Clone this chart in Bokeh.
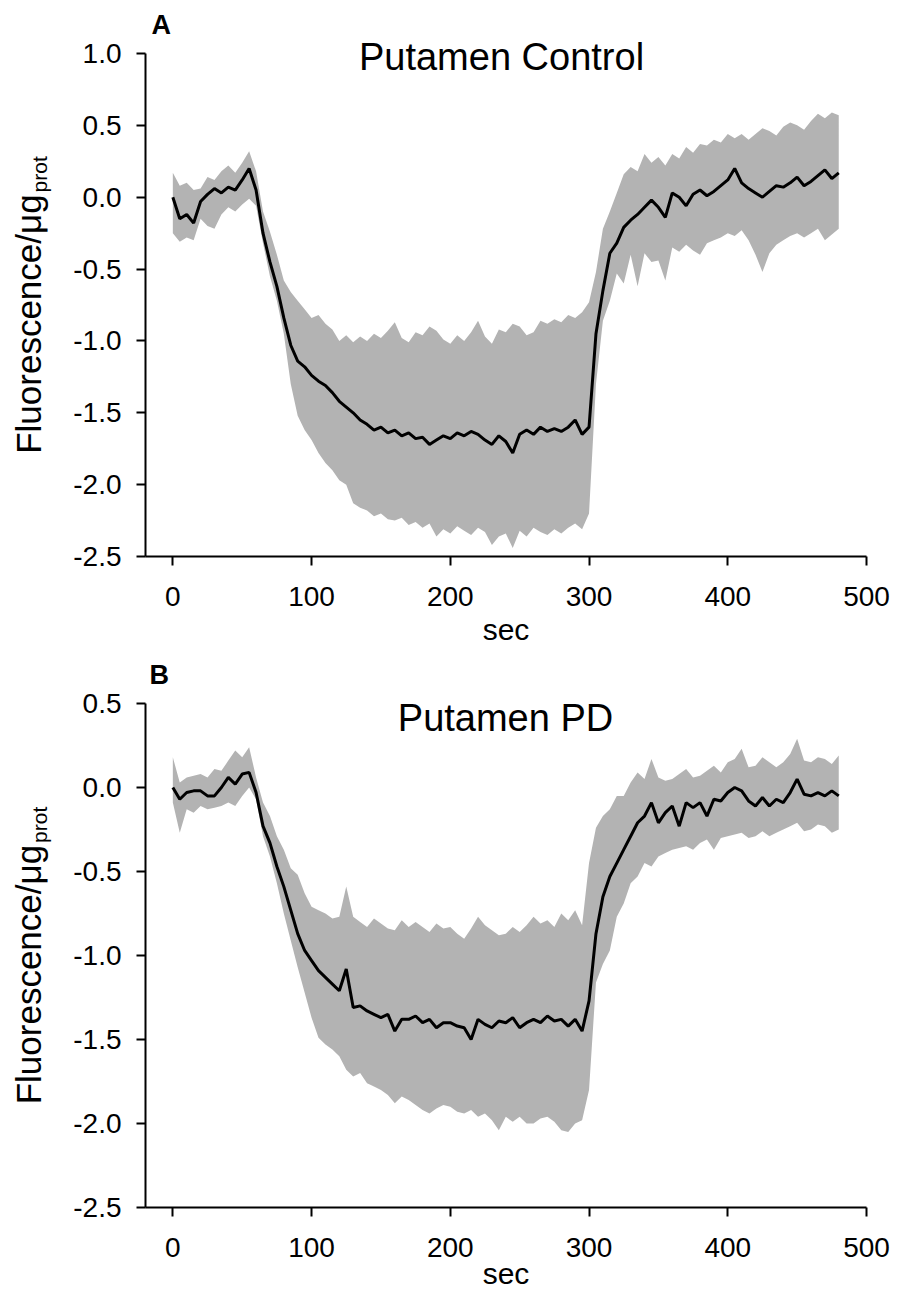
import numpy as np
from bokeh.plotting import figure
from bokeh.layouts import column, row
from bokeh.models import Range1d, FixedTicker, PrintfTickFormatter, Label
from bokeh.embed import file_html
from bokeh.resources import INLINE

# ---------------- data ----------------
time_s = list(range(0, 481, 5))

ctrl_mean = [0.00, -0.15, -0.12, -0.18, -0.03, 0.02, 0.06, 0.03, 0.07, 0.05,
             0.12, 0.20, 0.05, -0.25, -0.45, -0.62, -0.84, -1.03, -1.14, -1.18,
             -1.24, -1.28, -1.31, -1.36, -1.42, -1.46, -1.50, -1.55, -1.58, -1.62,
             -1.60, -1.64, -1.62, -1.66, -1.64, -1.68, -1.67, -1.72, -1.69, -1.66,
             -1.68, -1.64, -1.66, -1.63, -1.65, -1.69, -1.72, -1.66, -1.70, -1.78,
             -1.65, -1.62, -1.65, -1.60, -1.63, -1.61, -1.63, -1.60, -1.55, -1.65,
             -1.60, -0.95, -0.65, -0.39, -0.32, -0.21, -0.16, -0.12, -0.07, -0.02,
             -0.07, -0.14, 0.03, 0.00, -0.06, 0.02, 0.05, 0.01, 0.04, 0.08,
             0.12, 0.20, 0.10, 0.06, 0.03, 0.00, 0.04, 0.08, 0.07, 0.10,
             0.14, 0.08, 0.11, 0.15, 0.19, 0.13, 0.17]
ctrl_upper = [0.17, 0.08, 0.10, 0.05, 0.06, 0.14, 0.12, 0.18, 0.22, 0.17,
              0.24, 0.32, 0.18, -0.10, -0.24, -0.40, -0.58, -0.66, -0.72, -0.78,
              -0.84, -0.82, -0.88, -0.92, -1.00, -0.96, -1.01, -0.97, -1.00, -0.95,
              -0.98, -0.93, -0.87, -0.98, -1.01, -0.94, -0.96, -0.90, -0.93, -0.99,
              -1.02, -0.96, -1.00, -0.94, -0.86, -0.97, -1.02, -0.92, -0.94, -0.88,
              -0.90, -0.96, -0.94, -0.86, -0.88, -0.85, -0.87, -0.82, -0.84, -0.80,
              -0.73, -0.52, -0.22, -0.10, 0.03, 0.16, 0.21, 0.18, 0.30, 0.24,
              0.28, 0.22, 0.30, 0.27, 0.35, 0.31, 0.37, 0.36, 0.40, 0.38,
              0.44, 0.41, 0.44, 0.40, 0.44, 0.48, 0.46, 0.43, 0.49, 0.52,
              0.50, 0.47, 0.53, 0.58, 0.55, 0.59, 0.57]
ctrl_lower = [-0.25, -0.31, -0.28, -0.30, -0.15, -0.20, -0.22, -0.12, -0.07, -0.10,
              -0.05, -0.01, -0.06, -0.32, -0.55, -0.72, -0.95, -1.30, -1.52, -1.62,
              -1.69, -1.78, -1.85, -1.90, -1.97, -2.00, -2.13, -2.16, -2.18, -2.22,
              -2.20, -2.24, -2.25, -2.23, -2.28, -2.26, -2.30, -2.27, -2.36, -2.31,
              -2.34, -2.29, -2.32, -2.35, -2.30, -2.33, -2.42, -2.36, -2.34, -2.44,
              -2.32, -2.36, -2.30, -2.33, -2.35, -2.31, -2.34, -2.30, -2.27, -2.31,
              -2.20, -1.30, -0.86, -0.72, -0.53, -0.60, -0.40, -0.62, -0.39, -0.45,
              -0.44, -0.58, -0.35, -0.38, -0.33, -0.37, -0.40, -0.32, -0.30, -0.28,
              -0.25, -0.27, -0.23, -0.30, -0.40, -0.52, -0.39, -0.33, -0.30, -0.27,
              -0.25, -0.28, -0.25, -0.22, -0.30, -0.26, -0.22]

pd_mean = [0.00, -0.07, -0.03, -0.02, -0.02, -0.05, -0.05, 0.00, 0.06, 0.02,
           0.08, 0.09, -0.03, -0.23, -0.33, -0.47, -0.59, -0.73, -0.87, -0.97,
           -1.03, -1.09, -1.13, -1.17, -1.21, -1.08, -1.31, -1.30, -1.33, -1.35,
           -1.37, -1.35, -1.45, -1.38, -1.38, -1.36, -1.40, -1.38, -1.43, -1.40,
           -1.40, -1.42, -1.43, -1.50, -1.38, -1.41, -1.43, -1.39, -1.40, -1.37,
           -1.43, -1.40, -1.38, -1.40, -1.36, -1.39, -1.38, -1.42, -1.38, -1.45,
           -1.27, -0.87, -0.65, -0.53, -0.45, -0.37, -0.29, -0.21, -0.17, -0.09,
           -0.21, -0.15, -0.11, -0.23, -0.09, -0.12, -0.09, -0.17, -0.07, -0.08,
           -0.03, 0.00, -0.02, -0.08, -0.11, -0.06, -0.11, -0.07, -0.09, -0.03,
           0.05, -0.04, -0.05, -0.03, -0.05, -0.02, -0.05]
pd_upper = [0.18, 0.03, 0.06, 0.07, 0.08, 0.06, 0.11, 0.10, 0.16, 0.22,
            0.18, 0.24, 0.06, -0.09, -0.17, -0.29, -0.37, -0.48, -0.52, -0.63,
            -0.71, -0.73, -0.75, -0.78, -0.77, -0.59, -0.77, -0.80, -0.83, -0.78,
            -0.81, -0.84, -0.85, -0.79, -0.83, -0.80, -0.83, -0.86, -0.81, -0.84,
            -0.83, -0.87, -0.90, -0.84, -0.77, -0.82, -0.85, -0.88, -0.87, -0.83,
            -0.86, -0.82, -0.77, -0.81, -0.79, -0.83, -0.75, -0.79, -0.73, -0.82,
            -0.45, -0.24, -0.17, -0.13, -0.05, -0.05, 0.03, 0.09, 0.05, 0.17,
            0.06, 0.04, 0.05, 0.08, 0.11, 0.06, 0.07, 0.10, 0.13, 0.09,
            0.15, 0.17, 0.23, 0.12, 0.13, 0.18, 0.15, 0.12, 0.15, 0.20,
            0.29, 0.16, 0.15, 0.18, 0.17, 0.14, 0.19]
pd_lower = [-0.09, -0.27, -0.13, -0.15, -0.11, -0.13, -0.12, -0.11, -0.09, -0.11,
            -0.05, 0.00, -0.07, -0.29, -0.41, -0.57, -0.75, -0.91, -1.07, -1.22,
            -1.37, -1.49, -1.53, -1.56, -1.60, -1.68, -1.72, -1.70, -1.76, -1.78,
            -1.80, -1.83, -1.88, -1.84, -1.86, -1.89, -1.92, -1.94, -1.91, -1.89,
            -1.90, -1.93, -1.94, -1.92, -1.96, -1.94, -1.98, -2.04, -1.96, -1.99,
            -1.96, -2.00, -2.00, -1.97, -1.96, -1.99, -2.04, -2.05, -2.00, -1.98,
            -1.80, -1.16, -1.05, -0.97, -0.77, -0.69, -0.57, -0.53, -0.45, -0.47,
            -0.41, -0.39, -0.37, -0.36, -0.35, -0.37, -0.33, -0.31, -0.37, -0.30,
            -0.29, -0.28, -0.27, -0.30, -0.29, -0.26, -0.29, -0.27, -0.25, -0.23,
            -0.21, -0.26, -0.25, -0.22, -0.23, -0.27, -0.25]

x_ticks = [0, 100, 200, 300, 400, 500]
ctrl_y_ticks = [-2.5, -2.0, -1.5, -1.0, -0.5, 0.0, 0.5, 1.0]
pd_y_ticks = [-2.5, -2.0, -1.5, -1.0, -0.5, 0.0, 0.5]

# ---------------- styling ----------------
FONT = "Liberation Sans"
GRAY = "#b3b3b3"
X0, X1 = -19.7, 500.0
LABEL_W = 60          # width of the strip that holds the rotated y label
FRAME_LEFT = 145      # page x of the plot frame's left edge
FRAME_W = 721
MID = 0.376           # 'middle' anchor sits this many em above the baseline


def text_label(x, y, text, size_px, align="left", bold=False, angle=0.0):
    return Label(x=x, y=y, x_units="screen", y_units="screen",
                 text=text, text_font=FONT, text_font_size=f"{size_px}px",
                 text_font_style="bold" if bold else "normal",
                 text_align=align, text_baseline="middle",
                 text_color="black", angle=angle, angle_units="rad")


def make_panel(letter, title, mean, upper, lower, y0, y1, yticks,
               fig_top, axis_top, axis_bot, border_bottom,
               title_base, letter_base, letter_x, title_cx, sec_standoff):
    frame_h = axis_bot - fig_top
    px_per_unit = (axis_bot - axis_top) / (y1 - y0)
    y_end = y1 + (axis_top - fig_top) / px_per_unit

    def sx(px):
        return px - FRAME_LEFT

    def sy(py):
        return axis_bot - py

    p = figure(frame_width=FRAME_W, frame_height=frame_h,
               min_border_left=FRAME_LEFT - LABEL_W,
               min_border_right=907 - FRAME_LEFT - FRAME_W,
               min_border_top=0, min_border_bottom=border_bottom,
               x_range=Range1d(X0, X1), y_range=Range1d(y0, y_end),
               output_backend="svg", toolbar_location=None)
    p.grid.visible = False
    p.outline_line_color = None
    p.background_fill_color = "white"
    p.border_fill_color = "white"

    p.varea(x=time_s, y1=lower, y2=upper, fill_color=GRAY, fill_alpha=1.0)
    p.line(time_s, mean, line_color="black", line_width=3)

    for ax in (p.xaxis[0], p.yaxis[0]):
        ax.axis_line_width = 2
        ax.axis_line_color = "black"
        ax.major_tick_line_width = 2
        ax.major_tick_line_color = "black"
        ax.major_tick_out = 9
        ax.major_tick_in = 0
        ax.minor_tick_out = 0
        ax.minor_tick_in = 0
        ax.major_label_text_font = FONT
        ax.major_label_text_font_size = "28px"
        ax.major_label_text_color = "black"
    p.yaxis[0].bounds = (y0, y1)
    p.xaxis[0].ticker = FixedTicker(ticks=x_ticks)
    p.yaxis[0].ticker = FixedTicker(ticks=yticks)
    p.xaxis[0].formatter = PrintfTickFormatter(format="%d")
    p.yaxis[0].formatter = PrintfTickFormatter(format="%.1f")
    p.xaxis[0].major_label_standoff = 21
    p.yaxis[0].major_label_standoff = 15
    p.xaxis[0].axis_label = "sec"
    p.xaxis[0].axis_label_text_font = FONT
    p.xaxis[0].axis_label_text_font_size = "30px"
    p.xaxis[0].axis_label_text_font_style = "normal"
    p.xaxis[0].axis_label_text_color = "black"
    p.xaxis[0].axis_label_standoff = sec_standoff

    p.add_layout(text_label(sx(title_cx), sy(title_base - MID * 38), title, 38,
                            align="center"))
    p.add_layout(text_label(sx(letter_x), sy(letter_base - MID * 27), letter, 27,
                            bold=True))

    # strip with the rotated y-axis label (with subscript)
    fig_h = frame_h + border_bottom
    lab = figure(frame_width=LABEL_W, frame_height=fig_h,
                 min_border=0, x_range=Range1d(0, LABEL_W), y_range=Range1d(0, fig_h),
                 x_axis_type=None, y_axis_type=None,
                 output_backend="svg", toolbar_location=None)
    lab.grid.visible = False
    lab.outline_line_color = None
    lab.background_fill_color = "white"
    lab.border_fill_color = "white"

    main_len = 7.412 * 35
    sub_len = 1.723 * 21
    total = main_len + 2 + sub_len
    cy = (axis_top + axis_bot) / 2.0
    start = cy + total / 2.0

    def ly(py):
        return fig_top + fig_h - py

    lab.add_layout(text_label(41 - MID * 35, ly(start), "Fluorescence/\u03bcg", 35,
                              angle=np.pi / 2))
    lab.add_layout(text_label(47 - MID * 21, ly(start - main_len - 2), "prot", 21,
                              angle=np.pi / 2))
    return row(lab, p, spacing=0)


panelA = make_panel("A", "Putamen Control", ctrl_mean, ctrl_upper, ctrl_lower,
                    -2.5, 1.0, ctrl_y_ticks,
                    fig_top=0, axis_top=53, axis_bot=556, border_bottom=94,
                    title_base=70.7, letter_base=35, letter_x=151, title_cx=501,
                    sec_standoff=4)
panelB = make_panel("B", "Putamen PD", pd_mean, pd_upper, pd_lower,
                    -2.5, 0.5, pd_y_ticks,
                    fig_top=650, axis_top=703, axis_bot=1207, border_bottom=84,
                    title_base=731.7, letter_base=685, letter_x=149, title_cx=505,
                    sec_standoff=-3)

layout = column(panelA, panelB, spacing=0)
open("out.html", "w").write(file_html(layout, INLINE))
